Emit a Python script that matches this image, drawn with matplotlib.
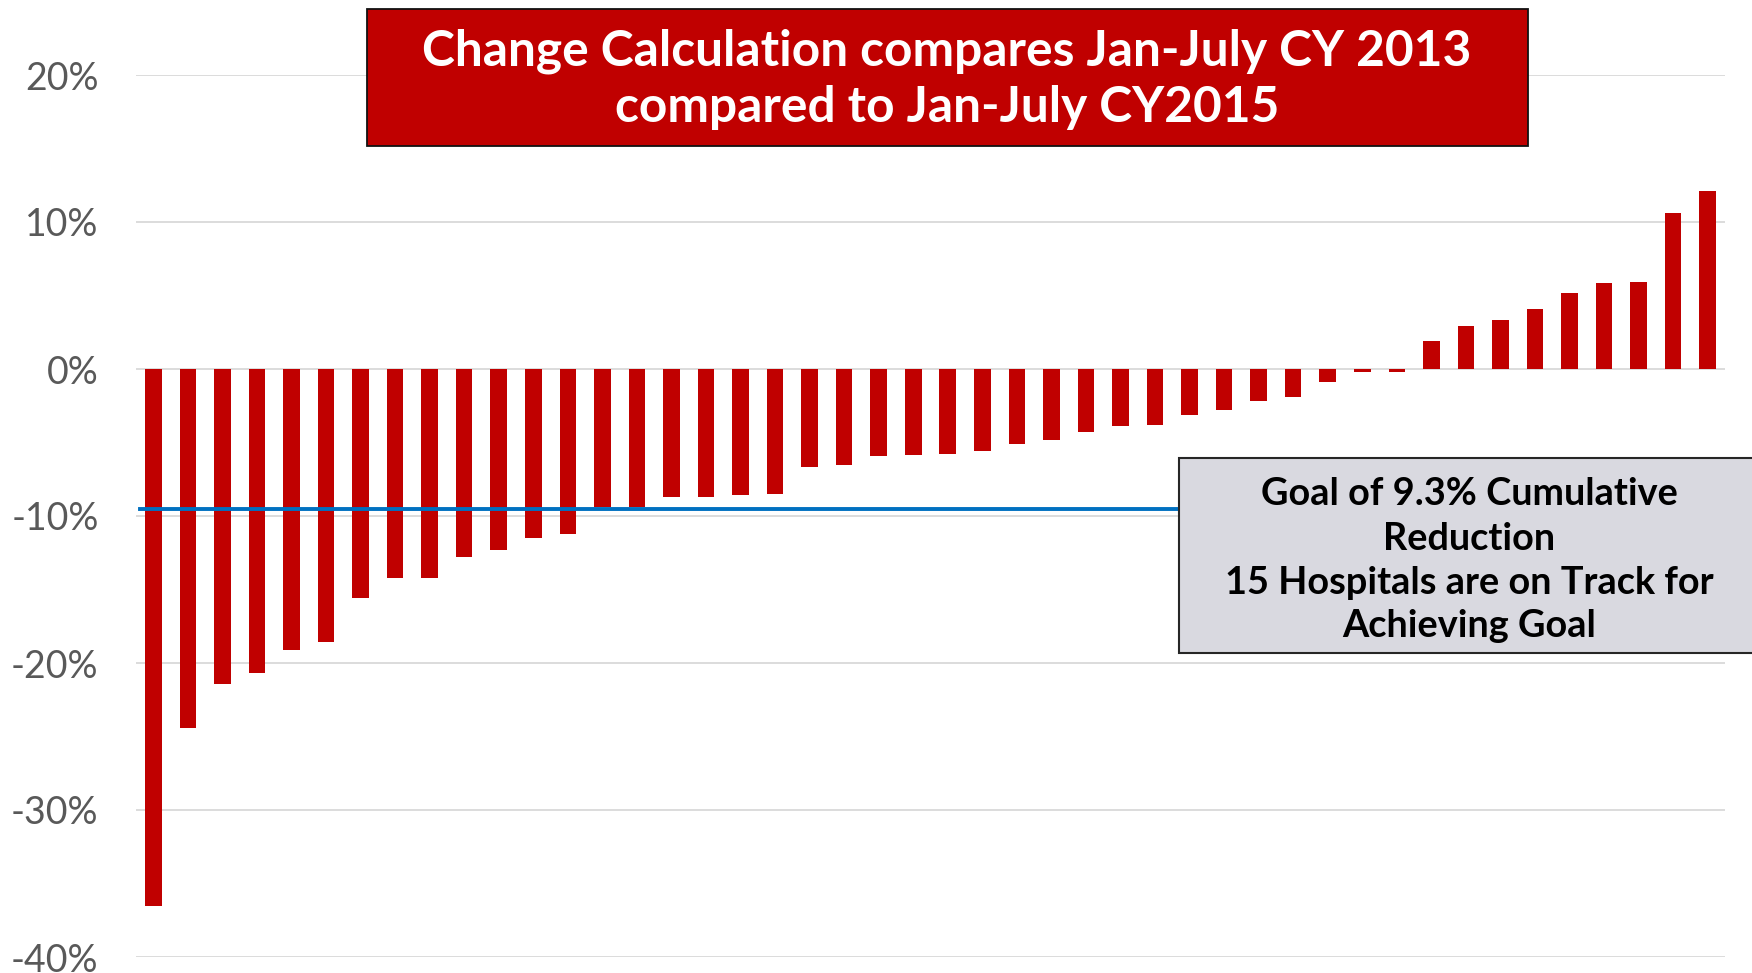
import matplotlib
matplotlib.use("Agg")
import matplotlib.pyplot as plt
from matplotlib.patches import Rectangle

# ---- data ----
hospitals = list(range(1, 47))
change_pct = [-36.5, -24.4, -21.4, -20.7, -19.1, -18.6, -15.6, -14.2, -14.2, -12.8,
              -12.3, -11.5, -11.2, -9.4, -9.4, -8.7, -8.7, -8.6, -8.5, -6.7,
              -6.5, -5.9, -5.85, -5.8, -5.6, -5.1, -4.8, -4.3, -3.9, -3.8,
              -3.1, -2.8, -2.2, -1.9, -0.9, -0.2, -0.2, 1.9, 2.9, 3.3,
              4.1, 5.2, 5.85, 5.9, 10.6, 12.1]
goal_line = -9.5
yticks = [-40, -30, -20, -10, 0, 10, 20]
ytick_labels = ["-40%", "-30%", "-20%", "-10%", "0%", "10%", "20%"]
title_lines = ["Change Calculation compares Jan-July CY 2013",
               "compared to Jan-July CY2015"]
goal_lines = ["Goal of 9.3% Cumulative", "Reduction",
              "15 Hospitals are on Track for", "Achieving Goal"]

W, H = 1752, 973
fig = plt.figure(figsize=(W / 100, H / 100), dpi=100)
ax = fig.add_axes([136 / W, 1 - 957 / H, (1725 - 136) / W, (957 - 75) / H])

x = list(range(len(change_pct)))
ax.bar(x, change_pct, width=0.48, color="#C00000", zorder=3)
ax.set_xlim(-0.5, len(change_pct) - 0.5)
ax.set_ylim(-40, 20)
ax.set_yticks(yticks)
ax.set_yticklabels(ytick_labels, fontfamily="Lato", fontsize=27, color="#595959")
ax.set_xticks([])
ax.tick_params(axis="y", length=0, pad=27)
for s in ax.spines.values():
    s.set_visible(False)
ax.yaxis.grid(True, color="#D9D9D9", linewidth=1.3, zorder=0)
ax.set_axisbelow(True)

ax.axhline(goal_line, xmin=0.0025, xmax=0.72, color="#0070C0", linewidth=2.8, zorder=4)

# title box
fig.patches.append(Rectangle((366.8 / W, 1 - 146 / H), (1528 - 366.8) / W, 137 / H,
                             transform=fig.transFigure, facecolor="#C00000",
                             edgecolor="#111111", linewidth=1.3, zorder=5))
# goal box
fig.patches.append(Rectangle((1179 / W, 1 - 653 / H), 0.4, 195 / H,
                             transform=fig.transFigure, facecolor="#D9D9E0",
                             edgecolor="#262626", linewidth=1.5, zorder=5))

renderer = fig.canvas.get_renderer()


def fit(t, target_px):
    w = t.get_window_extent(renderer).width
    t.set_fontsize(t.get_fontsize() * target_px / w)


t1 = fig.text(947 / W, 1 - 65 / H, title_lines[0], ha="center", va="baseline",
              color="white", fontweight="bold", fontfamily="Lato", fontsize=34, zorder=6)
fit(t1, 1052)
t2 = fig.text(947 / W, 1 - 121.7 / H, title_lines[1], ha="center", va="baseline",
              color="white", fontweight="bold", fontfamily="Lato",
              fontsize=t1.get_fontsize(), zorder=6)

baselines = [505, 549.5, 593.5, 637]
gts = []
for line, b in zip(goal_lines, baselines):
    gts.append(fig.text(1469 / W, 1 - b / H, line, ha="center", va="baseline",
                        color="black", fontweight="bold", fontfamily="Lato",
                        fontsize=23, zorder=6))
fit(gts[2], 490)
for g in gts:
    g.set_fontsize(gts[2].get_fontsize())

fig.savefig("out.png", dpi=100)
